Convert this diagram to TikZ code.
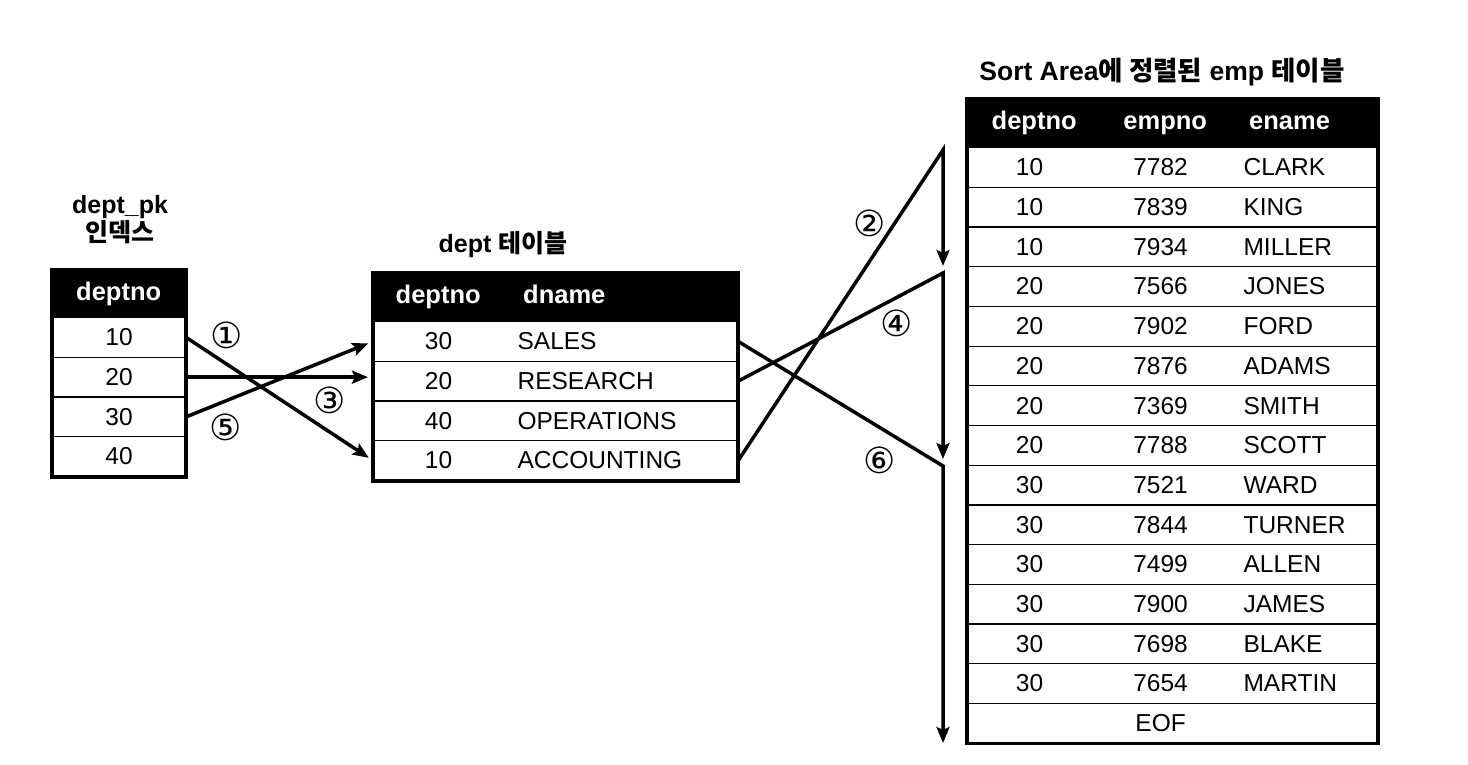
\documentclass[tikz,border=0pt]{standalone}
\usepackage{fontspec}
\setmainfont{Liberation Sans}
\newfontfamily\krfont{Noto Sans CJK KR}
\newfontfamily\numfont{DejaVu Sans}
\usetikzlibrary{arrows.meta}
\newcommand\emprow[3]{\noindent\makebox[124pt]{#1}\makebox[138pt]{#2}\hspace{14pt}#3}
\newcommand\deptrow[2]{\noindent\makebox[130pt]{#1}\hspace{14pt}#2}

\begin{document}
\begin{tikzpicture}[x=1pt,y=-1pt,
  txt/.style={font=\fontsize{24.5}{28}\selectfont},
  title/.style={font=\fontsize{25}{28}\selectfont\bfseries,align=center},
  cell/.style={txt,draw,line width=1.2pt,minimum height=39.7pt,inner sep=0pt,anchor=north west},
  pkrow/.style={cell,minimum width=133pt},
  deptline/.style={cell,text width=364pt,align=left},
  empline/.style={cell,text width=410pt,align=left},
  headbox/.style={fill=black,text=white,font=\fontsize{25.5}{30}\selectfont\bfseries,
    inner sep=0pt,minimum height=48pt,anchor=north west},
  frame/.style={line width=3.5pt},
  flow/.style={line width=3.5pt,-{Stealth[length=16pt,width=13pt,inset=3pt]}},
  numlabel/.style={font=\numfont\fontsize{36}{36}\selectfont,inner sep=0pt}]
\useasboundingbox (0,0) rectangle (1468,764);

% dept_pk index
\node[title] (pktitle) at (120,220) {dept\_pk\\{\krfont 인덱스}};
\node[headbox,minimum width=133pt,minimum height=47pt] (pkhead) at (52,270) {deptno};
\node[pkrow] (pk10) at (52,317) {10};
\node[pkrow] (pk20) at (52,356.7) {20};
\node[pkrow] (pk30) at (52,396.4) {30};
\node[pkrow] (pk40) at (52,436.1) {40};
\draw[frame] (pkhead.north west) rectangle (pk40.south east);

% dept table
\node[title] (depttitle) at (503,245) {dept {\krfont 테이블}};
\node[headbox,text width=364pt,align=left] (depthead) at (373,273)
  {\noindent\makebox[130pt]{deptno}\hspace{20pt}dname};
\node[deptline] (d30) at (373,321) {\deptrow{30}{SALES}};
\node[deptline] (d20) at (373,360.7) {\deptrow{20}{RESEARCH}};
\node[deptline] (d40) at (373,400.4) {\deptrow{40}{OPERATIONS}};
\node[deptline] (d10) at (373,440.1) {\deptrow{10}{ACCOUNTING}};
\draw[frame] (depthead.north west) rectangle (d10.south east);

% emp table in the sort area
\node[title,font=\fontsize{26.5}{30}\selectfont\bfseries] (emptitle) at (1162,72)
  {Sort Area{\krfont 에 정렬된} emp {\krfont 테이블}};
\node[headbox,text width=410pt,align=left] (emphead) at (967,99)
  {\noindent\makebox[134pt]{deptno}\makebox[128pt]{empno}\hspace{20pt}ename};
\node[empline] (e7782) at (967,147) {\emprow{10}{7782}{CLARK}};
\node[empline] (e7839) at (967,186.7) {\emprow{10}{7839}{KING}};
\node[empline] (e7934) at (967,226.4) {\emprow{10}{7934}{MILLER}};
\node[empline] (e7566) at (967,266.1) {\emprow{20}{7566}{JONES}};
\node[empline] (e7902) at (967,305.8) {\emprow{20}{7902}{FORD}};
\node[empline] (e7876) at (967,345.5) {\emprow{20}{7876}{ADAMS}};
\node[empline] (e7369) at (967,385.2) {\emprow{20}{7369}{SMITH}};
\node[empline] (e7788) at (967,424.9) {\emprow{20}{7788}{SCOTT}};
\node[empline] (e7521) at (967,464.6) {\emprow{30}{7521}{WARD}};
\node[empline] (e7844) at (967,504.3) {\emprow{30}{7844}{TURNER}};
\node[empline] (e7499) at (967,544) {\emprow{30}{7499}{ALLEN}};
\node[empline] (e7900) at (967,583.7) {\emprow{30}{7900}{JAMES}};
\node[empline] (e7698) at (967,623.4) {\emprow{30}{7698}{BLAKE}};
\node[empline] (e7654) at (967,663.1) {\emprow{30}{7654}{MARTIN}};
\node[empline] (eeof) at (967,702.8) {\emprow{}{EOF}{}};
\draw[frame] (emphead.north west) rectangle (eeof.south east);

% index -> dept
\draw[flow,shorten >=5pt] (pk10.east) -- (d10.west);
\draw[flow,shorten >=5pt] (pk20.east) -- (pk20.east -| d20.west);
\draw[flow,shorten >=5pt] (pk30.east) -- (d30.west);

% dept -> sort area
\coordinate (top2) at (943,150);
\coordinate (end2) at (943,266);
\coordinate (top4) at (943,273);
\coordinate (end4) at (943,459);
\coordinate (top6) at (943,466);
\coordinate (end6) at (943,743);
\draw[flow] (d10.east) -- (top2) -- (end2);
\draw[flow] (d20.east) -- (top4) -- (end4);
\draw[flow] (d30.east) -- (top6) -- (end6);

\node[numlabel] (n1) at (227,335) {①};
\node[numlabel] (n2) at (870,223) {②};
\node[numlabel] (n3) at (330,400) {③};
\node[numlabel] (n4) at (897,323) {④};
\node[numlabel] (n5) at (226,427) {⑤};
\node[numlabel] (n6) at (880,460) {⑥};
\end{tikzpicture}
\end{document}
